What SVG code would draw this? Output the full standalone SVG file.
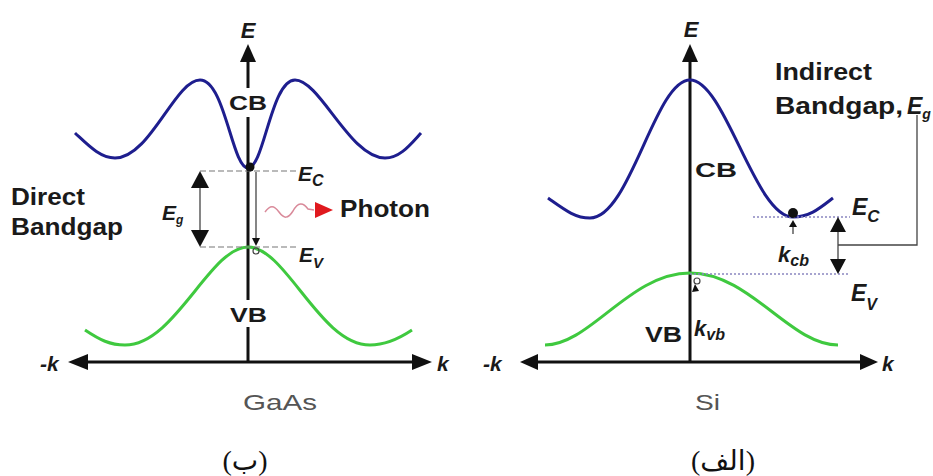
<svg xmlns="http://www.w3.org/2000/svg" width="933" height="476" viewBox="0 0 933 476">
<style>
.ax{stroke:#111;stroke-width:3;fill:none}
.ah{fill:#111}
.cb{stroke:#1e1e8e;stroke-width:3;fill:none}
.vb{stroke:#3fc93f;stroke-width:3;fill:none}
.dash{stroke:#777;stroke-width:1.2;stroke-dasharray:6 3;fill:none}
.dot{stroke:#8a86c0;stroke-width:1.5;stroke-dasharray:2 2;fill:none}
.thin{stroke:#444;stroke-width:1.3;fill:none}
.lbl{font-family:"Liberation Sans",Arial,sans-serif;font-weight:bold;fill:#1a1a1a}
.it{font-family:"Liberation Sans",Arial,sans-serif;font-style:italic;font-weight:bold;fill:#1a1a1a}
.mat{font-family:"Liberation Sans",Arial,sans-serif;fill:#555;font-size:22px}
.fa{font-family:"Liberation Serif","DejaVu Sans",serif;fill:#111;font-size:28px}
</style>

<!-- Left panel: GaAs -->
<g id="gaas-axes">
  <line class="ax" x1="248" y1="60" x2="248" y2="88"/>
  <line class="ax" x1="248" y1="117" x2="248" y2="300"/>
  <line class="ax" x1="248" y1="327" x2="248" y2="362"/>
  <polygon class="ah" points="240,62 248,44 256,62"/>
  <line class="ax" x1="86" y1="362" x2="414" y2="362"/>
  <polygon class="ah" points="88,354 68,362 88,370"/>
  <polygon class="ah" points="412,354 432,362 412,370"/>
  <text class="it" x="248" y="38" font-size="22" text-anchor="middle">E</text>
  <text class="it" x="40" y="371" font-size="21">-k</text>
  <text class="it" x="437" y="371" font-size="21">k</text>
  <text class="mat" x="243" y="410" textLength="74" lengthAdjust="spacingAndGlyphs">GaAs</text>
  <text class="fa" x="245" y="470" text-anchor="middle">(ب)</text>
</g>
<g id="gaas-cb">
  <path class="cb" d="M75,133 C88,145 100,158 115,158 C150,158 175,80 200,80 C225,80 232,168 248,168 C264,168 271,80 295,80 C320,80 350,158 385,158 C400,158 410,145 421,133"/>
  <text class="lbl" x="229" y="110" font-size="21" textLength="38" lengthAdjust="spacingAndGlyphs">CB</text>
</g>
<g id="gaas-vb">
  <path class="vb" d="M85,330 C100,340 110,345 125,345 C175,345 210,247 248,247 C286,247 320,345 370,345 C385,345 400,338 412,330"/>
  <text class="lbl" x="230" y="322" font-size="21" textLength="37" lengthAdjust="spacingAndGlyphs">VB</text>
</g>
<g id="gaas-levels">
  <line class="dash" x1="200" y1="171" x2="297" y2="171"/>
  <line class="dash" x1="200" y1="247" x2="297" y2="247"/>
  <text class="it" x="298" y="181" font-size="21">E<tspan font-size="16" dy="5">C</tspan></text>
  <text class="it" x="299" y="262" font-size="21">E<tspan font-size="15" dy="6">V</tspan></text>
</g>
<g id="gaas-gap">
  <line class="thin" x1="200" y1="185" x2="200" y2="233"/>
  <polygon class="ah" points="191,188 200,171 209,188"/>
  <polygon class="ah" points="191,230 200,247 209,230"/>
  <text class="it" x="162" y="220" font-size="21">E<tspan font-size="12" dy="4">g</tspan></text>
  <text class="lbl" x="11" y="205" font-size="24" textLength="74" lengthAdjust="spacingAndGlyphs">Direct</text>
  <text class="lbl" x="11" y="235" font-size="24" textLength="112" lengthAdjust="spacingAndGlyphs">Bandgap</text>
</g>
<g id="gaas-transition">
  <line class="thin" x1="256" y1="172" x2="256" y2="240"/>
  <polygon class="ah" points="252,238 256,246 260,238"/>
  <circle cx="250" cy="167" r="4.5" fill="#111"/>
  <circle cx="256" cy="251" r="3" fill="none" stroke="#444" stroke-width="1.2"/>
</g>
<g id="gaas-photon">
  <path d="M265,212 C270,205 274,205 279,212 C284,219 288,219 293,211 C298,202 303,202 308,209 L314,210" stroke="#d98a9a" stroke-width="1.5" fill="none"/>
  <polygon points="315,202 333,210 315,218" fill="#e0191e"/>
  <text class="lbl" x="340" y="217" font-size="24" textLength="90" lengthAdjust="spacingAndGlyphs">Photon</text>
</g>

<!-- Right panel: Si -->
<g id="si-axes">
  <line class="ax" x1="690" y1="60" x2="690" y2="362"/>
  <polygon class="ah" points="682,62 690,44 698,62"/>
  <line class="ax" x1="536" y1="362" x2="862" y2="362"/>
  <polygon class="ah" points="538,354 520,362 538,370"/>
  <polygon class="ah" points="860,354 878,362 860,370"/>
  <text class="it" x="691" y="37" font-size="22" text-anchor="middle">E</text>
  <text class="it" x="483" y="371" font-size="21">-k</text>
  <text class="it" x="882" y="371" font-size="21">k</text>
  <text class="mat" x="695" y="410" textLength="25" lengthAdjust="spacingAndGlyphs">Si</text>
  <text class="fa" x="723" y="470" text-anchor="middle">(الف)</text>
</g>
<g id="si-cb">
  <path class="cb" d="M548,198 C565,210 575,218 590,218 C630,218 655,80 690,80 C725,80 755,217 793,217 C810,217 820,208 833,198"/>
  <text class="lbl" x="695" y="177" font-size="21" textLength="42" lengthAdjust="spacingAndGlyphs">CB</text>
</g>
<g id="si-vb">
  <path class="vb" d="M545,345 C590,345 630,273 690,273 C750,273 790,345 838,345"/>
  <text class="lbl" x="645" y="342" font-size="22" textLength="37" lengthAdjust="spacingAndGlyphs">VB</text>
</g>
<g id="si-levels">
  <line class="dot" x1="753" y1="217" x2="850" y2="217"/>
  <line class="dot" x1="690" y1="274" x2="850" y2="274"/>
  <text class="it" x="852" y="215" font-size="23">E<tspan font-size="17" dy="7">C</tspan></text>
  <text class="it" x="851" y="301" font-size="23">E<tspan font-size="16" dy="9">V</tspan></text>
</g>
<g id="si-gap">
  <line class="thin" x1="838" y1="230" x2="838" y2="260"/>
  <polygon class="ah" points="830,232 838,217 846,232"/>
  <polygon class="ah" points="830,259 838,274 846,259"/>
  <polyline class="thin" points="838,245 917,245 917,115" stroke="#777"/>
  <text class="lbl" x="775" y="80" font-size="24" textLength="97" lengthAdjust="spacingAndGlyphs">Indirect</text>
  <text class="lbl" x="775" y="114" font-size="24" textLength="128" lengthAdjust="spacingAndGlyphs">Bandgap,</text>
  <text class="it" x="907" y="114" font-size="23">E<tspan font-size="14" dy="5">g</tspan></text>
</g>
<g id="si-k">
  <circle cx="793" cy="213" r="5" fill="#111"/>
  <line class="thin" x1="793" y1="224" x2="793" y2="234"/>
  <polygon class="ah" points="789,227 793,220 797,227"/>
  <text class="it" x="778" y="262" font-size="22">k<tspan font-size="16" dy="4">cb</tspan></text>
  <circle cx="697" cy="281" r="3" fill="none" stroke="#444" stroke-width="1.2"/>
  <polygon class="ah" points="692,292 695,284 699,291"/>
  <text class="it" x="694" y="336" font-size="22">k<tspan font-size="16" dy="4">vb</tspan></text>
</g>
</svg>
